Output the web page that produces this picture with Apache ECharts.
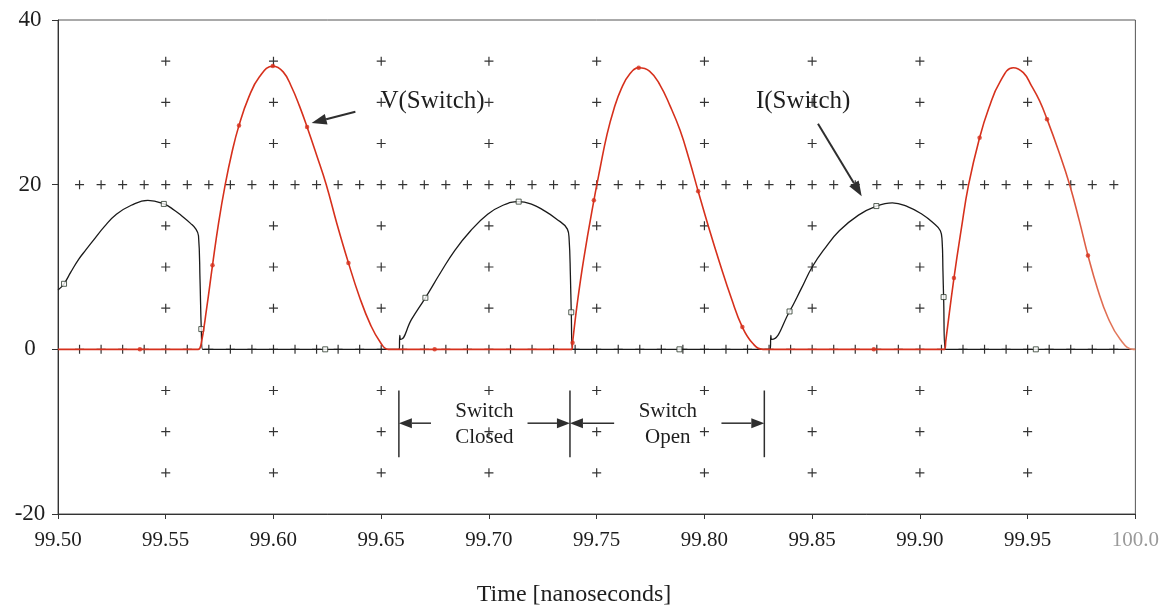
<!DOCTYPE html>
<html>
<head>
<meta charset="utf-8">
<script src="https://cdn.jsdelivr.net/npm/echarts@6/dist/echarts.min.js"></script>
<style>
  html, body { margin: 0; padding: 0; background: #ffffff; }
  #chart { width: 1162px; height: 615px; }
</style>
</head>
<body>
<div id="chart"></div>
<script>
// Axis ticks and labels
const xTicks = [99.50, 99.55, 99.60, 99.65, 99.70, 99.75, 99.80, 99.85, 99.90, 99.95, 100.0];
const xTickLabels = ['99.50', '99.55', '99.60', '99.65', '99.70', '99.75', '99.80', '99.85', '99.90', '99.95', '100.0'];
const yTicks = [-20, 0, 20, 40];

// V(Switch): switch voltage [V] against time [ns]
const vSwitch = [
  [99.5000, 0], [99.5380, 0], [99.5650, 0], [99.5663, 0.5], [99.5690, 5.0], [99.5717, 10.2],
  [99.5745, 15.3], [99.5776, 20.0], [99.5808, 24.0], [99.5840, 27.2], [99.5885, 30.6],
  [99.5935, 33.1], [99.5997, 34.4], [99.6045, 33.7], [99.6085, 31.8], [99.6120, 29.6],
  [99.6156, 27.0], [99.6200, 23.6], [99.6245, 20.0], [99.6295, 15.2], [99.6348, 10.5],
  [99.6400, 6.3], [99.6450, 3.0], [99.6495, 0.9], [99.6533, 0], [99.6748, 0],
  [99.7385, 0], [99.7388, 0.8], [99.7410, 5.6], [99.7440, 11.0], [99.7487, 18.1],
  [99.7515, 21.9], [99.7548, 26.1], [99.7580, 29.2], [99.7615, 31.7], [99.7655, 33.5],
  [99.7695, 34.2], [99.7745, 33.8], [99.7794, 32.1], [99.7840, 29.6], [99.7887, 26.6],
  [99.7930, 23.0], [99.7971, 19.2], [99.8020, 14.8], [99.8072, 10.4], [99.8125, 6.2],
  [99.8176, 2.7], [99.8225, 0.7], [99.8272, 0], [99.8786, 0],
  [99.9115, 0], [99.9120, 1.0], [99.9158, 8.65], [99.9192, 14.6], [99.9226, 20.0],
  [99.9277, 25.7], [99.9320, 29.3], [99.9370, 32.4], [99.9433, 34.2], [99.9480, 33.6],
  [99.9518, 32.0], [99.9555, 30.2], [99.9590, 27.96], [99.9645, 24.0], [99.9695, 20.0],
  [99.9740, 15.6], [99.9780, 11.4], [99.9825, 7.3], [99.9872, 3.9], [99.9930, 1.2],
  [99.9990, 0], [100.0, 0]
];

// I(Switch): switch current against time [ns]
const iSwitch = [
  [99.5000, 7.2], [99.5028, 7.96], [99.5060, 9.4], [99.5095, 10.9], [99.5130, 12.1],
  [99.5163, 13.2], [99.5215, 14.9], [99.5271, 16.4], [99.5340, 17.5], [99.5417, 18.1],
  [99.5491, 17.66], [99.5540, 16.9], [99.5579, 16.1], [99.5615, 15.3], [99.5640, 14.6],
  [99.5652, 13.8], [99.5659, 8.5], [99.5665, 2.46], [99.5671, 0], [99.6240, 0],
  [99.6584, 0], [99.6586, 1.7], [99.6591, 1.2], [99.6640, 3.6], [99.6705, 6.26],
  [99.6775, 9.3], [99.6841, 12.0], [99.6915, 14.4], [99.6994, 16.4], [99.7065, 17.5],
  [99.7138, 17.94], [99.7200, 17.6], [99.7256, 16.85], [99.7310, 15.9], [99.7364, 14.6],
  [99.7372, 13.4], [99.7378, 9.0], [99.7382, 4.5], [99.7388, 0], [99.7884, 0],
  [99.8306, 0], [99.8308, 1.7], [99.8313, 1.2], [99.8395, 4.6], [99.8450, 7.4],
  [99.8500, 10.0], [99.8560, 12.3], [99.8626, 14.4], [99.8715, 16.3], [99.8798, 17.4],
  [99.8872, 17.8], [99.8945, 17.3], [99.9010, 16.4], [99.9060, 15.4], [99.9095, 14.4],
  [99.9103, 13.2], [99.9107, 9.5], [99.9110, 6.35], [99.9118, 0], [99.9538, 0], [100.0, 0]
];

// Sample markers placed along each trace
const vMarkers = [
  [99.5380, 0], [99.5717, 10.2], [99.5840, 27.2], [99.5997, 34.4], [99.6156, 27.0],
  [99.6348, 10.5], [99.6748, 0], [99.7388, 0.8], [99.7487, 18.1], [99.7695, 34.2],
  [99.7971, 19.2], [99.8176, 2.7], [99.8786, 0], [99.9158, 8.65], [99.9277, 25.7],
  [99.9590, 27.96], [99.9780, 11.4]
];
const iMarkers = [
  [99.5028, 7.96], [99.5491, 17.66], [99.5665, 2.46], [99.6240, 0], [99.6705, 6.26],
  [99.7138, 17.94], [99.7382, 4.5], [99.7884, 0], [99.8395, 4.6], [99.8798, 17.4],
  [99.9110, 6.35], [99.9538, 0]
];

// Switching instants bracketing the closed / open intervals
const switchTimes = [99.6582, 99.7376, 99.8278];

// Reticle of "+" marks: every 5 units on the major time ticks, and every 0.01 ns on the 0 and 20 levels
const reticleRows = [35, 30, 25, 20, 15, 10, 5, 0, -5, -10, -15];
const denseRows = [20, 0];
const reticle = [];
xTicks.slice(1, -1).forEach(x => reticleRows.forEach(y => reticle.push([x, y])));
for (let k = 0; k < xTicks.length - 1; k++) {
  const a = xTicks[k], b = xTicks[k + 1];
  for (let j = 1; j < 5; j++) {
    const x = +(a + (b - a) * j / 5).toFixed(4);
    denseRows.forEach(y => reticle.push([x, y]));
  }
}

const SERIF = "'Liberation Serif', 'DejaVu Serif', serif";
const INK = '#1e1e1e';
const RED = '#d6301c';

const chart = echarts.init(document.getElementById('chart'), null, { renderer: 'canvas' });

chart.setOption({
  backgroundColor: '#ffffff',
  animation: false,
  grid: {
    left: 58, right: 21, top: 20, bottom: 101,
    show: true, borderColor: '#555555', borderWidth: 1, backgroundColor: 'transparent'
  },
  xAxis: {
    type: 'value',
    min: 99.5, max: 100.0, interval: 0.05,
    axisLine: { onZero: false, lineStyle: { color: '#333333', width: 1 } },
    axisTick: { show: true, length: 5, lineStyle: { color: '#333333' } },
    splitLine: { show: false },
    axisLabel: {
      margin: 16,
      fontFamily: SERIF, fontSize: 21, color: INK,
      formatter: function (v) {
        const i = xTicks.findIndex(t => Math.abs(t - v) < 1e-6);
        if (i < 0) return '';
        return i === xTicks.length - 1 ? '{dim|' + xTickLabels[i] + '}' : xTickLabels[i];
      },
      rich: { dim: { color: '#9a9a9a', fontFamily: SERIF, fontSize: 21 } }
    }
  },
  yAxis: {
    type: 'value',
    min: -20, max: 40, interval: 20,
    axisLine: { show: true, lineStyle: { color: '#333333', width: 1 } },
    axisTick: { show: true, length: 6, lineStyle: { color: '#333333' } },
    splitLine: { show: false },
    axisLabel: {
      margin: 28, align: 'center',
      fontFamily: SERIF, fontSize: 23, color: INK,
      formatter: v => (yTicks.indexOf(v) >= 0 ? String(v) : '')
    }
  },
  series: [
    {
      name: 'reticle', type: 'scatter', data: reticle, z: 1, silent: true,
      symbol: 'path://M0,5L10,5M5,0L5,10', symbolSize: 9, symbolKeepAspect: true,
      itemStyle: { color: 'none', borderColor: '#000000', borderWidth: 1.2 }
    },
    {
      name: 'I(Switch)', type: 'line', data: iSwitch, z: 3,
      smooth: 0.45, showSymbol: false,
      lineStyle: { color: '#1a1a1a', width: 1.3 }
    },
    {
      name: 'I(Switch) markers', type: 'scatter', data: iMarkers, z: 4,
      symbol: 'rect', symbolSize: 5,
      itemStyle: { color: '#ffffff', borderColor: '#2c3a2c', borderWidth: 1 }
    },
    {
      name: 'V(Switch)', type: 'line', data: vSwitch, z: 5,
      smooth: 0.45, showSymbol: false,
      lineStyle: {
        width: 1.6,
        color: {
          type: 'linear', x: 0, y: 0, x2: 1, y2: 0,
          colorStops: [
            { offset: 0, color: RED }, { offset: 0.9, color: RED }, { offset: 1, color: '#e58a6c' }
          ]
        }
      }
    },
    {
      name: 'V(Switch) markers', type: 'scatter', data: vMarkers, z: 6,
      symbol: 'circle', symbolSize: 4.5,
      itemStyle: { color: RED }
    }
  ]
});

// Annotations (labels, pointer arrows, switch-interval brackets) in data coordinates
function px(p) { return chart.convertToPixel({ gridIndex: 0 }, p); }

function arrow(from, to, opt) {
  const a = px(from), b = px(to);
  const dx = b[0] - a[0], dy = b[1] - a[1];
  const len = Math.hypot(dx, dy), ux = dx / len, uy = dy / len;
  const hl = opt.head, hw = opt.headW / 2;
  const bx = b[0] - ux * hl, by = b[1] - uy * hl;
  return [
    { type: 'line', shape: { x1: a[0], y1: a[1], x2: bx, y2: by },
      style: { stroke: opt.color, lineWidth: opt.width }, z: 20 },
    { type: 'polygon',
      shape: { points: [[b[0], b[1]], [bx - uy * hw, by + ux * hw], [bx + uy * hw, by - ux * hw]] },
      style: { fill: opt.color }, z: 20 }
  ];
}

function text(p, str, size) {
  const q = px(p);
  return { type: 'text', x: q[0], y: q[1], z: 20,
    style: { text: str, fill: INK, font: size + 'px ' + SERIF, align: 'center', verticalAlign: 'middle' } };
}

const g = [];
const pointer = { color: '#2e2e2e', width: 2, head: 15, headW: 11 };
g.push(text([99.6738, 30.1], 'V(Switch)', 25));
g.push(...arrow([99.6380, 28.85], [99.6177, 27.5], pointer));
g.push(text([99.8458, 30.1], 'I(Switch)', 25));
g.push(...arrow([99.8527, 27.4], [99.8730, 18.6], pointer));

// Switch closed / open brackets
switchTimes.forEach(t => {
  const a = px([t, -5.0]), b = px([t, -13.1]);
  g.push({ type: 'line', shape: { x1: a[0], y1: a[1], x2: b[0], y2: b[1] },
    style: { stroke: '#2e2e2e', lineWidth: 1.5 }, z: 20 });
});
const bracket = { color: '#2e2e2e', width: 1.5, head: 13, headW: 10 };
const yArrow = -8.97;
g.push(...arrow([99.6731, yArrow], [switchTimes[0], yArrow], bracket));
g.push(...arrow([99.7179, yArrow], [switchTimes[1], yArrow], bracket));
g.push(...arrow([99.7581, yArrow], [switchTimes[1], yArrow], bracket));
g.push(...arrow([99.8079, yArrow], [switchTimes[2], yArrow], bracket));
g.push(text([99.6979, -7.6], 'Switch', 21));
g.push(text([99.6979, -10.65], 'Closed', 21));
g.push(text([99.7830, -7.6], 'Switch', 21));
g.push(text([99.7830, -10.65], 'Open', 21));

// Axis title
g.push({ type: 'text', x: 574, y: 595, z: 20,
  style: { text: 'Time [nanoseconds]', fill: INK, font: '24px ' + SERIF, align: 'center', verticalAlign: 'middle' } });

chart.setOption({ graphic: g });
</script>
</body>
</html>
